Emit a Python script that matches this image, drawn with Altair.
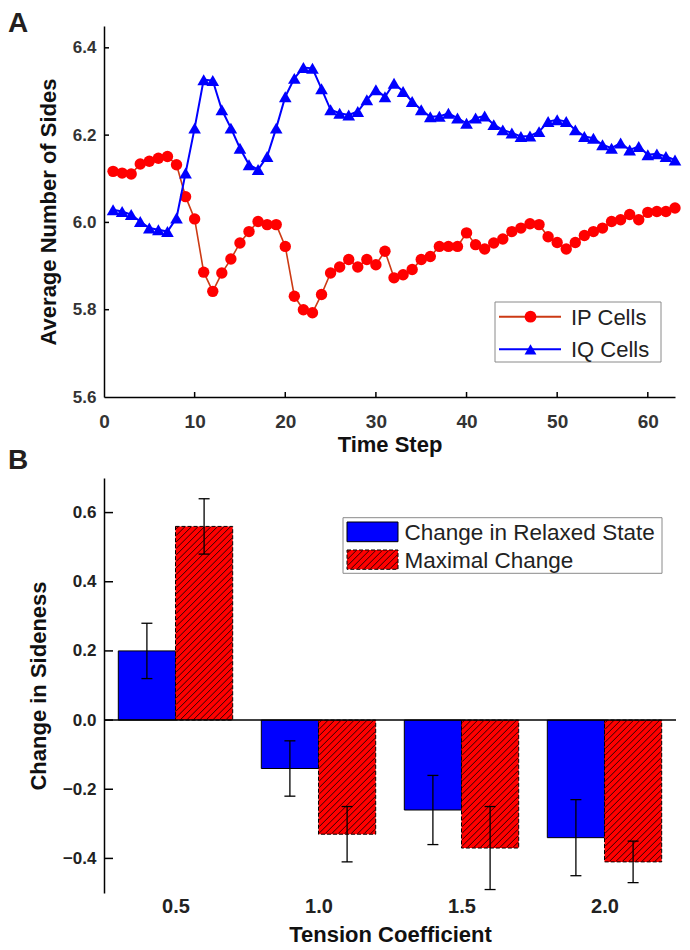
import altair as alt
import pandas as pd

# ---------------- data ----------------
time_step = list(range(1, 64))
ip_cells = [6.117, 6.113, 6.111, 6.134, 6.140, 6.147, 6.151, 6.132, 6.059, 6.008,
            5.886, 5.842, 5.884, 5.916, 5.953, 5.979, 6.002, 5.995, 5.995, 5.945,
            5.831, 5.800, 5.793, 5.835, 5.884, 5.898, 5.915, 5.898, 5.915, 5.903,
            5.934, 5.873, 5.880, 5.892, 5.915, 5.922, 5.945, 5.945, 5.945, 5.976,
            5.949, 5.939, 5.953, 5.962, 5.979, 5.987, 5.997, 5.995, 5.967, 5.954,
            5.939, 5.954, 5.970, 5.979, 5.987, 6.002, 6.006, 6.018, 6.006, 6.023,
            6.025, 6.025, 6.033]
iq_cells = [6.029, 6.025, 6.018, 6.002, 5.987, 5.983, 5.979, 6.010, 6.113, 6.216,
            6.327, 6.325, 6.258, 6.216, 6.170, 6.132, 6.121, 6.151, 6.216, 6.288,
            6.330, 6.355, 6.353, 6.306, 6.258, 6.250, 6.246, 6.254, 6.281, 6.304,
            6.288, 6.319, 6.300, 6.277, 6.258, 6.242, 6.243, 6.250, 6.239, 6.227,
            6.239, 6.244, 6.224, 6.212, 6.205, 6.197, 6.198, 6.208, 6.231, 6.235,
            6.231, 6.212, 6.197, 6.193, 6.178, 6.170, 6.182, 6.166, 6.174, 6.155,
            6.157, 6.151, 6.143]
a_x_ticks = [0, 10, 20, 30, 40, 50, 60]
a_y_ticks = [5.6, 5.8, 6.0, 6.2, 6.4]

tension = [0.5, 1.0, 1.5, 2.0]
relaxed = [0.20, -0.14, -0.26, -0.34]
relaxed_err = [0.08, 0.08, 0.10, 0.11]
maximal = [0.56, -0.33, -0.37, -0.41]
maximal_err = [0.08, 0.08, 0.12, 0.06]
b_y_ticks = [-0.4, -0.2, 0.0, 0.2, 0.4, 0.6]

# ---------------- style ----------------
FONT = "Liberation Sans"
RED = "#ff0000"
IP_LINE = "#cc3a14"
BLUE = "#0000ff"
WA, HA = 571, 371
WB, HB = 572, 415
B_DOMAIN = [-0.5, 0.7]
BAR_W = 0.2
HATCH_PITCH = 6.5

one = pd.DataFrame({"k": [0]})

df_ip = pd.DataFrame({"t": time_step, "v": ip_cells})
df_iq = pd.DataFrame({"t": time_step, "v": iq_cells})

axA_x = alt.Axis(values=a_x_ticks, title="Time Step", titleFontSize=22, titleFontWeight="bold",
                 titleColor="#111", titlePadding=3, labelFontSize=19, labelFontWeight="bold",
                 labelColor="#333", labelPadding=15, ticks=False, tickSize=0, labelFlush=False,
                 domainColor="black", domainWidth=1.5, grid=False, titleFont=FONT, labelFont=FONT)
axA_y = alt.Axis(values=a_y_ticks, format=".1f", title="Average Number of Sides", titleFontSize=22,
                 titleFontWeight="bold", titleColor="#111", titlePadding=12, labelFontSize=17,
                 labelFontWeight="bold", labelColor="#333", labelPadding=8, ticks=False, tickSize=0,
                 domainColor="black", domainWidth=1.5, grid=False, titleFont=FONT, labelFont=FONT)
xA = alt.X("t:Q", scale=alt.Scale(domain=[0, 63], nice=False, zero=False), axis=axA_x)
yA = alt.Y("v:Q", scale=alt.Scale(domain=[5.6, 6.45], nice=False, zero=False), axis=axA_y)

ip_line = alt.Chart(df_ip).mark_line(color=IP_LINE, strokeWidth=1.6).encode(x=xA, y=yA)
ip_pts = alt.Chart(df_ip).mark_point(filled=True, shape="circle", size=130, color=RED, opacity=1).encode(x=xA, y=yA)
iq_line = alt.Chart(df_iq).mark_line(color=BLUE, strokeWidth=2).encode(x=xA, y=yA)
iq_pts = alt.Chart(df_iq).mark_point(filled=True, shape="triangle-up", size=160, color=BLUE, opacity=1).encode(x=xA, y=yA)

a_xt = alt.Chart(pd.DataFrame({"t": a_x_ticks[1:]})).mark_rule(color="black", strokeWidth=1.5).encode(
    x=xA, y=alt.value(HA), y2=alt.value(HA - 5))
a_yt = alt.Chart(pd.DataFrame({"v": a_y_ticks[1:]})).mark_rule(color="black", strokeWidth=1.5).encode(
    y=yA, x=alt.value(0), x2=alt.value(5))

# legend A
legA = [alt.Chart(one).mark_rect(fill="white", stroke="#8a8a8a", strokeWidth=1).encode(
    x=alt.value(391), x2=alt.value(557), y=alt.value(276), y2=alt.value(336))]
for lab, lc, mc, shp, yy in [("IP Cells", IP_LINE, RED, "circle", 290.7),
                             ("IQ Cells", BLUE, BLUE, "triangle-up", 323.3)]:
    legA.append(alt.Chart(one).mark_rule(color=lc, strokeWidth=2).encode(
        x=alt.value(395), x2=alt.value(457), y=alt.value(yy)))
    legA.append(alt.Chart(one).mark_point(filled=True, shape=shp, size=140, color=mc, opacity=1).encode(
        x=alt.value(426.5), y=alt.value(yy)))
    legA.append(alt.Chart(one).mark_text(text=lab, font=FONT, fontSize=22, color="#222", align="left",
                                         baseline="middle").encode(x=alt.value(467), y=alt.value(yy + 1)))

labelA = alt.Chart(one).mark_text(text="A", font=FONT, fontSize=28, fontWeight="bold", color="#231f20",
                                  align="left", baseline="top").encode(x=alt.value(-96), y=alt.value(-16))

panelA = alt.layer(ip_line, ip_pts, iq_line, iq_pts, a_xt, a_yt, *legA, labelA).properties(width=WA, height=HA)

# ---------------- panel B ----------------
df_b = pd.DataFrame({"tension": tension, "relaxed": relaxed, "relaxed_err": relaxed_err,
                     "maximal": maximal, "maximal_err": maximal_err})

axB_x = alt.Axis(values=tension, format=".1f", title="Tension Coefficient", titleFontSize=22,
                 titleFontWeight="bold", titleColor="#111", titlePadding=8, labelFontSize=20,
                 labelFontWeight="bold", labelColor="#222", labelPadding=3, ticks=False, tickSize=0,
                 domain=False, grid=False, labelFlush=False, titleFont=FONT, labelFont=FONT)
axB_y = alt.Axis(values=b_y_ticks, format=".1f", title="Change in Sideness", titleFontSize=22,
                 titleFontWeight="bold", titleColor="#111", titlePadding=12, labelFontSize=17,
                 labelFontWeight="bold", labelColor="#222", labelPadding=8, ticks=False, tickSize=0,
                 domainColor="black", domainWidth=1.5, grid=False, titleFont=FONT, labelFont=FONT)
xB = alt.X("xa:Q", scale=alt.Scale(domain=[0.25, 2.25], nice=False, zero=False), axis=axB_x)
yB = alt.Y("ya:Q", scale=alt.Scale(domain=B_DOMAIN, nice=False, zero=False), axis=axB_y)

PX_PER_X = WB / 2.0
PX_PER_Y = HB / (B_DOMAIN[1] - B_DOMAIN[0])


def hatch_segments(w, h, pitch=HATCH_PITCH, inset=0.6):
    """'/' hatch lines clipped to a w x h pixel box (origin bottom-left, y up)."""
    segs = []
    c = -h + pitch / 2
    while c < w:
        xs = max(inset, c + inset)
        xe = min(w - inset, h + c - inset)
        if xe > xs:
            segs.append((xs, xs - c, xe, xe - c))
        c += pitch
    return segs


# hatch lines of the red bars, in data units
hatch_rows = []
for t, v in zip(tension, maximal):
    w = BAR_W * PX_PER_X
    h = abs(v) * PX_PER_Y
    y0 = min(0.0, v)
    for (x1, y1, x2, y2) in hatch_segments(w, h):
        hatch_rows.append({"xa": t + x1 / PX_PER_X, "xb": t + x2 / PX_PER_X,
                           "ya": y0 + y1 / PX_PER_Y, "yb": y0 + y2 / PX_PER_Y})
df_hatch = pd.DataFrame(hatch_rows)

blue_bars = alt.Chart(df_b).transform_calculate(
    xa="datum.tension - 0.2", xb="datum.tension", ya="datum.relaxed", yb="0"
).mark_rect(fill=BLUE, stroke="black", strokeWidth=1).encode(
    x=xB, x2=alt.X2("xb:Q"), y=yB, y2=alt.Y2("yb:Q"))

red_bars = alt.Chart(df_b).transform_calculate(
    xa="datum.tension", xb="datum.tension + 0.2", ya="datum.maximal", yb="0"
).mark_rect(fill=RED, stroke="black", strokeWidth=1, strokeDash=[4, 2]).encode(
    x=xB, x2=alt.X2("xb:Q"), y=yB, y2=alt.Y2("yb:Q"))

hatch = alt.Chart(df_hatch).mark_rule(color="#1a0000", strokeWidth=0.9).encode(
    x=xB, x2=alt.X2("xb:Q"), y=yB, y2=alt.Y2("yb:Q"))

zero_rule = alt.Chart(pd.DataFrame({"ya": [0.0]})).mark_rule(color="black", strokeWidth=1.5).encode(y=yB)

err_layers = []
for off, val, err in [("- 0.1", "relaxed", "relaxed_err"), ("+ 0.1", "maximal", "maximal_err")]:
    base = alt.Chart(df_b)
    err_layers.append(base.transform_calculate(
        xa=f"datum.tension {off}", ya=f"datum.{val} - datum.{err}", yb=f"datum.{val} + datum.{err}"
    ).mark_rule(color="black", strokeWidth=1.3).encode(x=xB, y=yB, y2=alt.Y2("yb:Q")))
    for sign in ["-", "+"]:
        err_layers.append(base.transform_calculate(
            xa=f"datum.tension {off}", ya=f"datum.{val} {sign} datum.{err}"
        ).mark_tick(orient="horizontal", size=11, thickness=1.3, color="black", opacity=1).encode(x=xB, y=yB))

b_yt = alt.Chart(pd.DataFrame({"ya": b_y_ticks})).mark_rule(color="black", strokeWidth=1.5).encode(
    y=yB, x=alt.value(0), x2=alt.value(9))

# legend B
SW_X0, SW_X1, SW_Y0, SW_Y1 = 243, 294, 72, 91.3
legB = [
    alt.Chart(one).mark_rect(fill="white", stroke="#8a8a8a", strokeWidth=1).encode(
        x=alt.value(239), x2=alt.value(558), y=alt.value(39.7), y2=alt.value(95.3)),
    alt.Chart(one).mark_rect(fill=BLUE, stroke="black", strokeWidth=1).encode(
        x=alt.value(SW_X0), x2=alt.value(SW_X1), y=alt.value(44), y2=alt.value(63.7)),
    alt.Chart(one).mark_rect(fill=RED, stroke="black", strokeWidth=1, strokeDash=[4, 2]).encode(
        x=alt.value(SW_X0), x2=alt.value(SW_X1), y=alt.value(SW_Y0), y2=alt.value(SW_Y1)),
]
for (x1, y1, x2, y2) in hatch_segments(SW_X1 - SW_X0, SW_Y1 - SW_Y0):
    legB.append(alt.Chart(one).mark_rule(color="#1a0000", strokeWidth=0.9).encode(
        x=alt.value(SW_X0 + x1), x2=alt.value(SW_X0 + x2), y=alt.value(SW_Y1 - y1), y2=alt.value(SW_Y1 - y2)))
legB += [
    alt.Chart(one).mark_text(text="Change in Relaxed State", font=FONT, fontSize=22.5, color="#222",
                             align="left", baseline="middle").encode(x=alt.value(300.5), y=alt.value(54.5)),
    alt.Chart(one).mark_text(text="Maximal Change", font=FONT, fontSize=22.5, color="#222",
                             align="left", baseline="middle").encode(x=alt.value(300.5), y=alt.value(82.5)),
]

labelB = alt.Chart(one).mark_text(text="B", font=FONT, fontSize=28, fontWeight="bold", color="#231f20",
                                  align="left", baseline="top").encode(x=alt.value(-96), y=alt.value(-31))

panelB = alt.layer(blue_bars, red_bars, hatch, zero_rule, *err_layers, b_yt, *legB, labelB).properties(
    width=WB, height=HB)

chart = alt.vconcat(panelA, panelB, spacing=-8).properties(
    padding={"top": 2, "left": 0, "right": 0, "bottom": 0}).configure_view(stroke=None)

chart.save("out.html", embed_options={"renderer": "svg", "actions": False})
